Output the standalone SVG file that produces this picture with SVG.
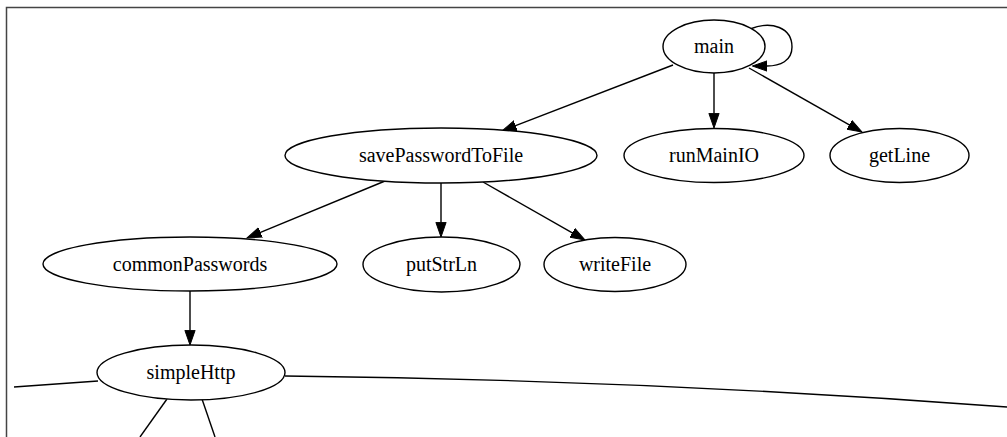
<svg xmlns="http://www.w3.org/2000/svg" width="1007" height="437" viewBox="0 0 1007 437">
<style>
.node ellipse{fill:#fff;stroke:#000;stroke-width:1.4}
.node text{font-family:"Liberation Serif","Times New Roman",serif;font-size:20px;fill:#000;text-anchor:middle}
.edge{fill:none;stroke:#000;stroke-width:1.4}
.arr{marker-end:url(#ah)}
</style>
<defs>
<marker id="ah" markerUnits="userSpaceOnUse" markerWidth="16" markerHeight="12" viewBox="0 -6 16 12" refX="0" refY="0" orient="auto">
<path d="M0,-5.1 L14.6,0 L0,5.1 z" fill="#000" stroke="#000" stroke-width="1"/>
</marker>
</defs>
<rect x="6.5" y="7.5" width="1010" height="440" fill="#fff" stroke="#444" stroke-width="1.5"/>
<g id="connectors">
<path class="edge arr" d="M673,65 L515.6,125.7"/>
<path class="edge arr" d="M714,73 L714,113.4"/>
<path class="edge arr" d="M749,68 L849.3,124.8"/>
<path class="edge arr" d="M750,29 C772,20 792,28 792,47 C792,61 780,66 767,66"/>
<path class="edge arr" d="M385,181 L260.5,232.4"/>
<path class="edge arr" d="M441,183 L441,222.4"/>
<path class="edge arr" d="M483,182 L572.3,232.8"/>
<path class="edge arr" d="M190,290 L190,330.4"/>
<path class="edge" d="M98,381 L14,387"/>
<path class="edge" d="M285,376 Q650,380 1007,407"/>
<path class="edge" d="M167,399 L140,437"/>
<path class="edge" d="M202,399 L215,437"/>
</g>
<g id="main" class="node"><ellipse cx="714" cy="46.5" rx="51" ry="26.5"/><text x="714" y="53">main</text></g>
<g id="savePasswordToFile" class="node"><ellipse cx="441" cy="155.5" rx="156" ry="27.5"/><text x="441" y="162">savePasswordToFile</text></g>
<g id="runMainIO" class="node"><ellipse cx="714" cy="155.5" rx="90" ry="27"/><text x="714" y="162">runMainIO</text></g>
<g id="getLine" class="node"><ellipse cx="899.5" cy="155.5" rx="69.5" ry="27"/><text x="899.5" y="162">getLine</text></g>
<g id="commonPasswords" class="node"><ellipse cx="190" cy="264" rx="147" ry="27"/><text x="190" y="270.5">commonPasswords</text></g>
<g id="putStrLn" class="node"><ellipse cx="441.5" cy="264.5" rx="78.5" ry="27.5"/><text x="441.5" y="271">putStrLn</text></g>
<g id="writeFile" class="node"><ellipse cx="615" cy="264.5" rx="71" ry="27"/><text x="615" y="271">writeFile</text></g>
<g id="simpleHttp" class="node"><ellipse cx="191" cy="372.5" rx="94" ry="27.5"/><text x="191" y="379">simpleHttp</text></g>
</svg>
